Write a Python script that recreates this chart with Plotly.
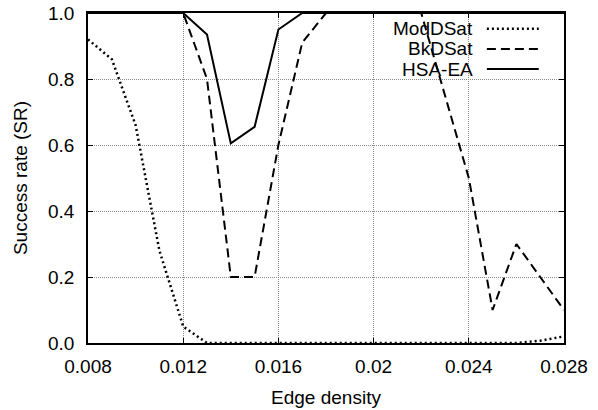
import plotly.graph_objects as go

edge_density = [0.008, 0.009, 0.010, 0.011, 0.012, 0.013, 0.014, 0.015, 0.016, 0.017,
                0.018, 0.019, 0.020, 0.021, 0.022, 0.023, 0.024, 0.025, 0.026, 0.027, 0.028]
moddsat = [0.92, 0.86, 0.66, 0.28, 0.05, 0.0, 0.0, 0.0, 0.0, 0.0,
           0.0, 0.0, 0.0, 0.0, 0.0, 0.0, 0.0, 0.0, 0.0, 0.007, 0.02]
bkdsat = [1.0, 1.0, 1.0, 1.0, 1.0, 0.8, 0.2, 0.2, 0.6, 0.91,
          1.0, 1.0, 1.0, 1.0, 1.0, 0.75, 0.5, 0.1, 0.3, 0.2, 0.1]
hsaea = [1.0, 1.0, 1.0, 1.0, 1.0, 0.935, 0.605, 0.655, 0.95, 1.0,
         1.0, 1.0, 1.0, 1.0, 1.0, 1.0, 1.0, 1.0, 1.0, 1.0, 1.0]

x_ticks = [0.008, 0.012, 0.016, 0.02, 0.024, 0.028]
x_tick_labels = ["0.008", "0.012", "0.016", "0.02", "0.024", "0.028"]
y_ticks = [0.0, 0.2, 0.4, 0.6, 0.8, 1.0]
y_tick_labels = ["0.0", "0.2", "0.4", "0.6", "0.8", "1.0"]

series_names = ["ModDSat", "BkDSat", "HSA-EA"]
series_data = [moddsat, bkdsat, hsaea]
series_dash = ["2px,3px", "9px,5px", "solid"]
series_width = [2.5, 2, 2]

FONT = "Liberation Sans, Arial, Helvetica, sans-serif"

fig = go.Figure()
for name, ys, dash, w in zip(series_names, series_data, series_dash, series_width):
    fig.add_trace(go.Scatter(x=edge_density, y=ys, mode="lines", name=name,
                             line=dict(color="black", width=w, dash=dash),
                             showlegend=False))

# custom gnuplot-style legend (text right, sample line on the right)
leg_y = [0.952, 0.891, 0.830]
for name, dash, w, yy in zip(series_names, series_dash, series_width, leg_y):
    fig.add_annotation(xref="paper", yref="paper", x=0.812, y=yy, text=name,
                       showarrow=False, xanchor="right", yanchor="middle",
                       font=dict(family=FONT, size=19, color="black"))
    fig.add_shape(type="line", xref="paper", yref="paper",
                  x0=0.838, x1=0.947, y0=yy, y1=yy,
                  line=dict(color="black", width=w, dash=dash))

axis_common = dict(
    showline=True, linecolor="black", linewidth=1.5, mirror="allticks",
    ticks="inside", ticklen=5, tickcolor="black", tickwidth=1,
    showgrid=True, gridcolor="#8a8a8a", griddash="1px,1px", gridwidth=1,
    zeroline=False, automargin=False,
    tickfont=dict(family=FONT, size=19, color="black"),
)

fig.update_xaxes(range=[0.008, 0.028], tickvals=x_ticks, ticktext=x_tick_labels,
                 ticklabelstandoff=5,
                 title=dict(text="Edge density", font=dict(family=FONT, size=19, color="black")),
                 **axis_common)
fig.update_yaxes(range=[0.0, 1.0], tickvals=y_ticks, ticktext=y_tick_labels,
                 ticklabelstandoff=8,
                 title=dict(text="Success rate (SR)", font=dict(family=FONT, size=19, color="black")),
                 **axis_common)

fig.update_layout(
    width=598, height=410, autosize=False,
    margin=dict(l=88, r=34, t=13, b=67, pad=0),
    paper_bgcolor="white", plot_bgcolor="white",
    font=dict(family=FONT, size=19, color="black"),
    showlegend=False,
)

fig.write_html("out.html")
